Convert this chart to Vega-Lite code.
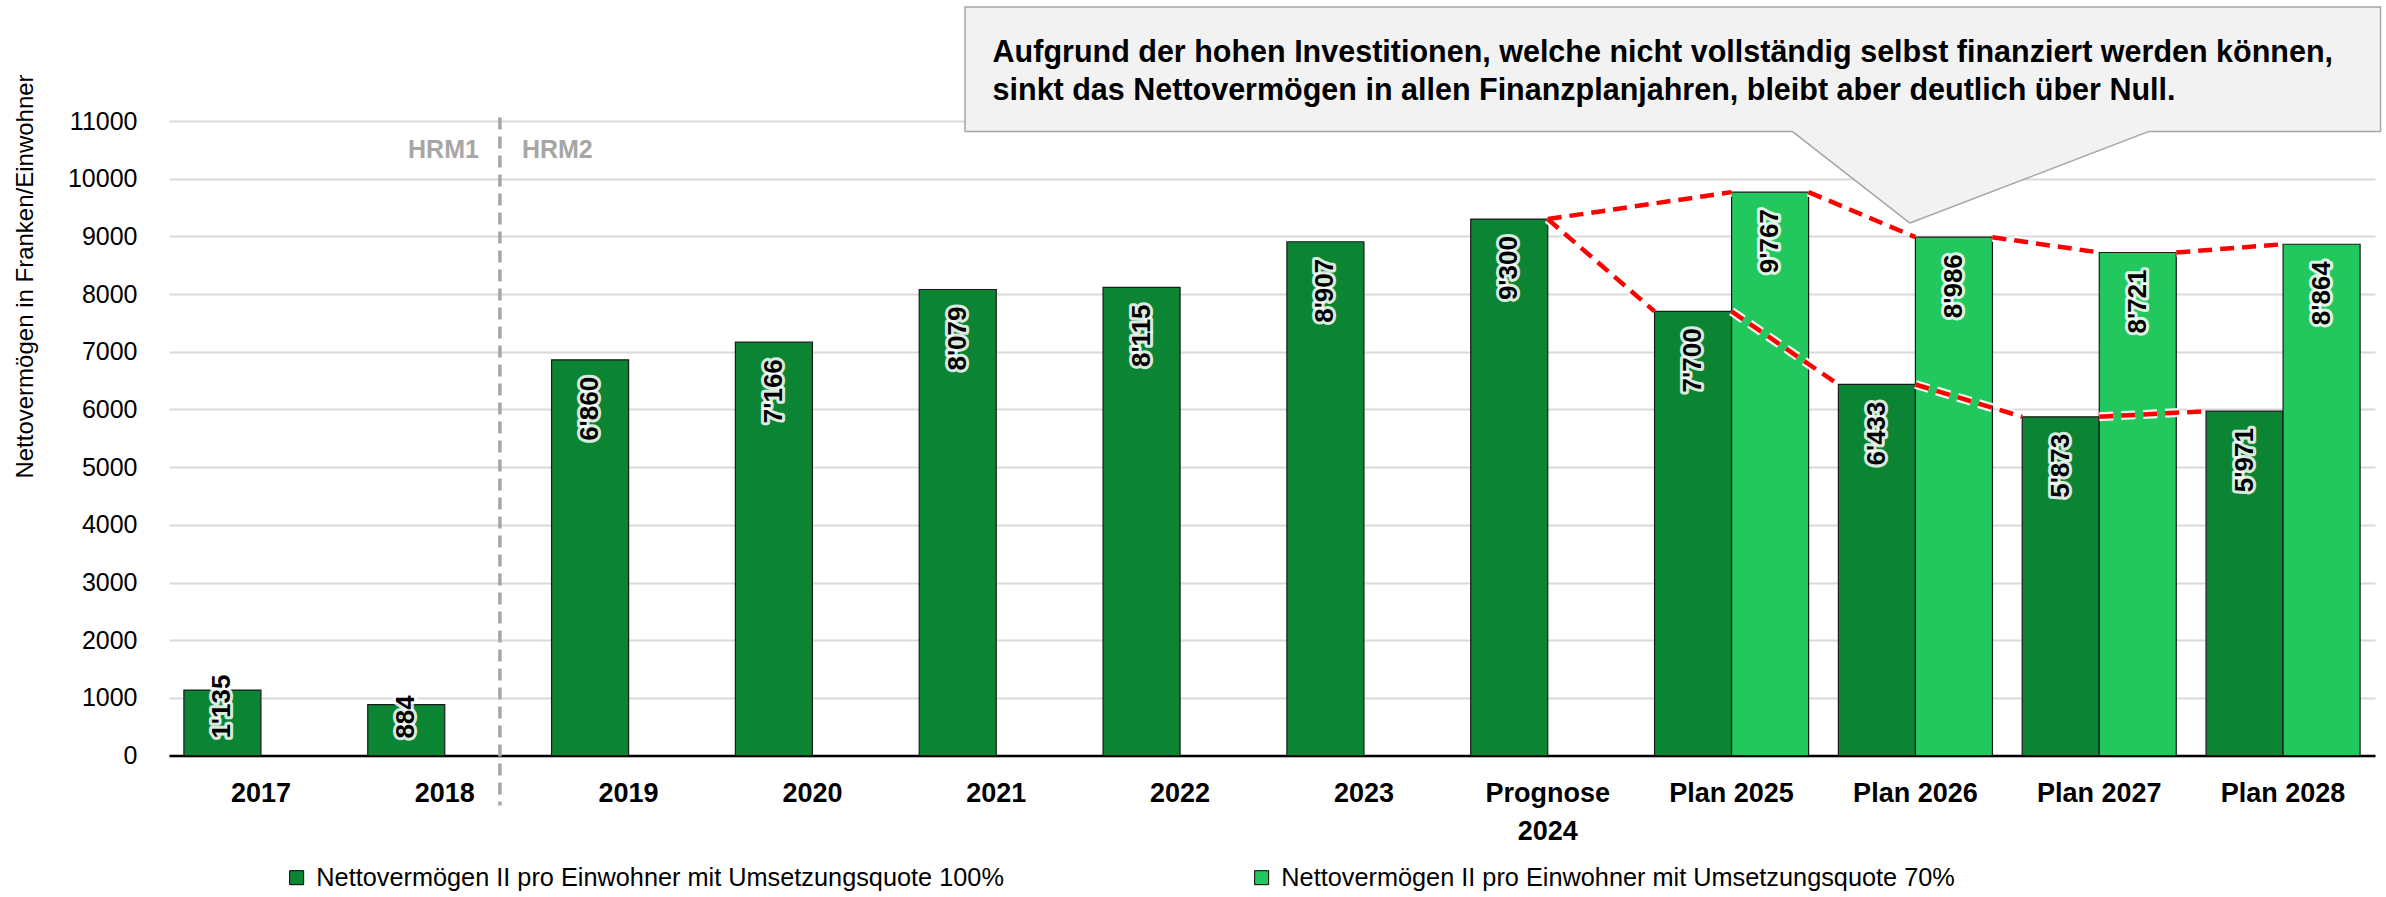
{
  "$schema": "https://vega.github.io/schema/vega-lite/v6.json",
  "autosize": {"type": "none"},
  "padding": {"left": 169, "top": 121, "right": 11, "bottom": 141.4},
  "width": 2206,
  "height": 634.6,
  "background": "white",
  "config": {
    "view": {"stroke": null},
    "locale": {"number": {"decimal": ".", "thousands": "'", "grouping": [3], "currency": ["", ""]}},
    "axisY": {
      "tickCount": 11, "format": "d", "domain": false, "ticks": false,
      "grid": true, "gridColor": "#d9d9d9", "gridWidth": 2,
      "labelFont": "Liberation Sans", "labelFontSize": 25, "labelColor": "#000000", "labelPadding": 32,
      "titleFont": "Liberation Sans", "titleFontWeight": "normal", "titleFontSize": 24, "titleColor": "#000000",
      "titleX": -156, "titleY": 155, "titleAngle": 270, "titleAlign": "center", "titleBaseline": "top"
    }
  },
  "datasets": {
    "bars": [
      {"cat": "2017", "series": "Nettovermögen II pro Einwohner mit Umsetzungsquote 100%", "value": 1135},
      {"cat": "2018", "series": "Nettovermögen II pro Einwohner mit Umsetzungsquote 100%", "value": 884},
      {"cat": "2019", "series": "Nettovermögen II pro Einwohner mit Umsetzungsquote 100%", "value": 6860},
      {"cat": "2020", "series": "Nettovermögen II pro Einwohner mit Umsetzungsquote 100%", "value": 7166},
      {"cat": "2021", "series": "Nettovermögen II pro Einwohner mit Umsetzungsquote 100%", "value": 8079},
      {"cat": "2022", "series": "Nettovermögen II pro Einwohner mit Umsetzungsquote 100%", "value": 8115},
      {"cat": "2023", "series": "Nettovermögen II pro Einwohner mit Umsetzungsquote 100%", "value": 8907},
      {"cat": "Prognose 2024", "series": "Nettovermögen II pro Einwohner mit Umsetzungsquote 100%", "value": 9300},
      {"cat": "Plan 2025", "series": "Nettovermögen II pro Einwohner mit Umsetzungsquote 100%", "value": 7700},
      {"cat": "Plan 2025", "series": "Nettovermögen II pro Einwohner mit Umsetzungsquote 70%", "value": 9767},
      {"cat": "Plan 2026", "series": "Nettovermögen II pro Einwohner mit Umsetzungsquote 100%", "value": 6433},
      {"cat": "Plan 2026", "series": "Nettovermögen II pro Einwohner mit Umsetzungsquote 70%", "value": 8986},
      {"cat": "Plan 2027", "series": "Nettovermögen II pro Einwohner mit Umsetzungsquote 100%", "value": 5873},
      {"cat": "Plan 2027", "series": "Nettovermögen II pro Einwohner mit Umsetzungsquote 70%", "value": 8721},
      {"cat": "Plan 2028", "series": "Nettovermögen II pro Einwohner mit Umsetzungsquote 100%", "value": 5971},
      {"cat": "Plan 2028", "series": "Nettovermögen II pro Einwohner mit Umsetzungsquote 70%", "value": 8864}
    ],
    "red": [
      {"x1": 7.5, "y1": 9300, "x2": 8.5, "y2": 9767},
      {"x1": 8.919, "y1": 9767, "x2": 9.5, "y2": 8986},
      {"x1": 9.919, "y1": 8986, "x2": 10.5, "y2": 8721},
      {"x1": 10.919, "y1": 8721, "x2": 11.5, "y2": 8864},
      {"x1": 7.5, "y1": 9300, "x2": 8.081, "y2": 7700},
      {"x1": 8.5, "y1": 7700, "x2": 9.081, "y2": 6433},
      {"x1": 9.5, "y1": 6433, "x2": 10.081, "y2": 5873},
      {"x1": 10.5, "y1": 5873, "x2": 11.081, "y2": 5971}
    ],
    "pointer": [
      {"u": 8.83, "top": 10880, "bot": 10800},
      {"u": 9.47, "top": 10880, "bot": 9231},
      {"u": 10.77, "top": 10880, "bot": 10800}
    ],
    "pointerEdges": [
      {"x1": 8.83, "y1": 10820, "x2": 9.47, "y2": 9231},
      {"x1": 10.77, "y1": 10820, "x2": 9.47, "y2": 9231}
    ],
    "box": [{"x1": 4.33, "x2": 12.03, "y1": 12975, "y2": 10820}],
    "note": [
      {"u": 4.48, "v": 12021, "t": "Aufgrund der hohen Investitionen, welche nicht vollständig selbst finanziert werden können,"},
      {"u": 4.48, "v": 11357, "t": "sinkt das Nettovermögen in allen Finanzplanjahren, bleibt aber deutlich über Null."}
    ],
    "hrm": [
      {"u": 1.8, "top": 11060, "bottom": -863, "mid": 10490, "left": "HRM1", "right": "HRM2"}
    ]
  },
  "layer": [
    {
      "data": {"name": "bars"},
      "mark": {"type": "bar", "stroke": "#1a1a1a", "strokeWidth": 1.2},
      "encoding": {
        "x": {
          "field": "cat", "type": "nominal",
          "scale": {"domain": ["2017","2018","2019","2020","2021","2022","2023","Prognose 2024","Plan 2025","Plan 2026","Plan 2027","Plan 2028"], "paddingInner": 0.162, "paddingOuter": 0.081},
          "axis": {
            "title": null, "labelAngle": 0, "ticks": false, "grid": false,
            "domain": true, "domainColor": "#000000", "domainWidth": 2.5,
            "labelFont": "Liberation Sans",
            "labelFontWeight": "bold", "labelFontSize": 27, "labelColor": "#000000",
            "labelPadding": 25, "labelLineHeight": 38, "labelBaseline": "top",
            "labelExpr": "datum.value === 'Prognose 2024' ? ['Prognose', '2024'] : datum.label"
          }
        },
        "xOffset": {"field": "series", "type": "nominal", "scale": {"domain": ["Nettovermögen II pro Einwohner mit Umsetzungsquote 100%", "Nettovermögen II pro Einwohner mit Umsetzungsquote 70%"], "paddingInner": 0, "paddingOuter": 0}},
        "y": {"field": "value", "type": "quantitative", "scale": {"domain": [0, 11000], "nice": false}, "title": "Nettovermögen in Franken/Einwohner"},
        "color": {
          "field": "series", "type": "nominal",
          "scale": {"domain": ["Nettovermögen II pro Einwohner mit Umsetzungsquote 100%", "Nettovermögen II pro Einwohner mit Umsetzungsquote 70%"], "range": ["#0b8434", "#22c85e"]},
          "legend": {
            "title": null, "orient": "none", "legendX": 115, "legendY": 744, "direction": "horizontal",
            "symbolType": "square", "symbolSize": 196, "symbolStrokeColor": "#000000", "symbolStrokeWidth": 1,
            "labelFont": "Liberation Sans", "labelFontSize": 25.3, "labelColor": "#000000", "labelLimit": 2000, "labelOffset": 7,
            "columnPadding": 245
          }
        }
      }
    },
    {
      "data": {"name": "hrm"},
      "mark": {"type": "rule", "stroke": "#a6a6a6", "strokeWidth": 3.5, "strokeDash": [12, 7]},
      "encoding": {
        "x": {"field": "u", "type": "quantitative", "scale": {"domain": [0, 12]}, "axis": null},
        "y": {"field": "top", "type": "quantitative", "scale": {"domain": [0, 11000], "nice": false}, "title": "Nettovermögen in Franken/Einwohner"},
        "y2": {"field": "bottom"}
      }
    },
    {
      "data": {"name": "red"},
      "mark": {"type": "rule", "stroke": "#ffffff", "strokeWidth": 9, "strokeDash": [14, 8], "opacity": 0.9},
      "encoding": {
        "x": {"field": "x1", "type": "quantitative", "scale": {"domain": [0, 12]}, "axis": null},
        "x2": {"field": "x2"},
        "y": {"field": "y1", "type": "quantitative", "scale": {"domain": [0, 11000], "nice": false}, "title": "Nettovermögen in Franken/Einwohner"},
        "y2": {"field": "y2"}
      }
    },
    {
      "data": {"name": "red"},
      "mark": {"type": "rule", "stroke": "#ff0000", "strokeWidth": 4.5, "strokeDash": [14, 8]},
      "encoding": {
        "x": {"field": "x1", "type": "quantitative", "scale": {"domain": [0, 12]}, "axis": null},
        "x2": {"field": "x2"},
        "y": {"field": "y1", "type": "quantitative", "scale": {"domain": [0, 11000], "nice": false}, "title": "Nettovermögen in Franken/Einwohner"},
        "y2": {"field": "y2"}
      }
    },
    {
      "data": {"name": "bars"},
      "transform": [{"filter": "datum.value >= 2000"}],
      "mark": {"type": "text", "angle": 270, "align": "right", "baseline": "middle", "dx": -17, "font": "Liberation Sans", "fontWeight": "bold", "fontSize": 26, "fill": "#ffffff", "stroke": "#ffffff", "strokeWidth": 6, "strokeOpacity": 0.85, "strokeJoin": "round"},
      "encoding": {
        "x": {"field": "cat", "type": "nominal", "scale": {"domain": ["2017","2018","2019","2020","2021","2022","2023","Prognose 2024","Plan 2025","Plan 2026","Plan 2027","Plan 2028"], "paddingInner": 0.162, "paddingOuter": 0.081}, "axis": null},
        "xOffset": {"field": "series", "type": "nominal", "scale": {"type": "point", "domain": ["Nettovermögen II pro Einwohner mit Umsetzungsquote 100%", "Nettovermögen II pro Einwohner mit Umsetzungsquote 70%"], "padding": 0.5}},
        "y": {"field": "value", "type": "quantitative", "scale": {"domain": [0, 11000], "nice": false}, "title": "Nettovermögen in Franken/Einwohner"},
        "text": {"field": "value", "type": "quantitative", "format": ",d"}
      }
    },
    {
      "data": {"name": "bars"},
      "transform": [{"filter": "datum.value >= 2000"}],
      "mark": {"type": "text", "angle": 270, "align": "right", "baseline": "middle", "dx": -17, "font": "Liberation Sans", "fontWeight": "bold", "fontSize": 26, "fill": "#000000"},
      "encoding": {
        "x": {"field": "cat", "type": "nominal", "scale": {"domain": ["2017","2018","2019","2020","2021","2022","2023","Prognose 2024","Plan 2025","Plan 2026","Plan 2027","Plan 2028"], "paddingInner": 0.162, "paddingOuter": 0.081}, "axis": null},
        "xOffset": {"field": "series", "type": "nominal", "scale": {"type": "point", "domain": ["Nettovermögen II pro Einwohner mit Umsetzungsquote 100%", "Nettovermögen II pro Einwohner mit Umsetzungsquote 70%"], "padding": 0.5}},
        "y": {"field": "value", "type": "quantitative", "scale": {"domain": [0, 11000], "nice": false}, "title": "Nettovermögen in Franken/Einwohner"},
        "text": {"field": "value", "type": "quantitative", "format": ",d"}
      }
    },
    {
      "data": {"name": "bars"},
      "transform": [{"filter": "datum.value < 2000"}],
      "mark": {"type": "text", "angle": 270, "align": "left", "baseline": "middle", "dx": 17, "font": "Liberation Sans", "fontWeight": "bold", "fontSize": 26, "fill": "#ffffff", "stroke": "#ffffff", "strokeWidth": 6, "strokeOpacity": 0.85, "strokeJoin": "round"},
      "encoding": {
        "x": {"field": "cat", "type": "nominal", "scale": {"domain": ["2017","2018","2019","2020","2021","2022","2023","Prognose 2024","Plan 2025","Plan 2026","Plan 2027","Plan 2028"], "paddingInner": 0.162, "paddingOuter": 0.081}, "axis": null},
        "xOffset": {"field": "series", "type": "nominal", "scale": {"type": "point", "domain": ["Nettovermögen II pro Einwohner mit Umsetzungsquote 100%", "Nettovermögen II pro Einwohner mit Umsetzungsquote 70%"], "padding": 0.5}},
        "y": {"datum": 0, "type": "quantitative", "scale": {"domain": [0, 11000], "nice": false}, "title": "Nettovermögen in Franken/Einwohner"},
        "text": {"field": "value", "type": "quantitative", "format": ",d"}
      }
    },
    {
      "data": {"name": "bars"},
      "transform": [{"filter": "datum.value < 2000"}],
      "mark": {"type": "text", "angle": 270, "align": "left", "baseline": "middle", "dx": 17, "font": "Liberation Sans", "fontWeight": "bold", "fontSize": 26, "fill": "#000000"},
      "encoding": {
        "x": {"field": "cat", "type": "nominal", "scale": {"domain": ["2017","2018","2019","2020","2021","2022","2023","Prognose 2024","Plan 2025","Plan 2026","Plan 2027","Plan 2028"], "paddingInner": 0.162, "paddingOuter": 0.081}, "axis": null},
        "xOffset": {"field": "series", "type": "nominal", "scale": {"type": "point", "domain": ["Nettovermögen II pro Einwohner mit Umsetzungsquote 100%", "Nettovermögen II pro Einwohner mit Umsetzungsquote 70%"], "padding": 0.5}},
        "y": {"datum": 0, "type": "quantitative", "scale": {"domain": [0, 11000], "nice": false}, "title": "Nettovermögen in Franken/Einwohner"},
        "text": {"field": "value", "type": "quantitative", "format": ",d"}
      }
    },
    {
      "data": {"name": "box"},
      "mark": {"type": "rect", "fill": "#f2f2f2", "stroke": "#a6a6a6", "strokeWidth": 1.5},
      "encoding": {
        "x": {"field": "x1", "type": "quantitative", "scale": {"domain": [0, 12]}, "axis": null},
        "x2": {"field": "x2"},
        "y": {"field": "y1", "type": "quantitative", "scale": {"domain": [0, 11000], "nice": false}, "title": "Nettovermögen in Franken/Einwohner"},
        "y2": {"field": "y2"}
      }
    },
    {
      "data": {"name": "pointer"},
      "mark": {"type": "area", "fill": "#f2f2f2"},
      "encoding": {
        "x": {"field": "u", "type": "quantitative", "scale": {"domain": [0, 12]}, "axis": null},
        "y": {"field": "top", "type": "quantitative", "scale": {"domain": [0, 11000], "nice": false}, "title": "Nettovermögen in Franken/Einwohner"},
        "y2": {"field": "bot"}
      }
    },
    {
      "data": {"name": "pointerEdges"},
      "mark": {"type": "rule", "stroke": "#a6a6a6", "strokeWidth": 1.5},
      "encoding": {
        "x": {"field": "x1", "type": "quantitative", "scale": {"domain": [0, 12]}, "axis": null},
        "x2": {"field": "x2"},
        "y": {"field": "y1", "type": "quantitative", "scale": {"domain": [0, 11000], "nice": false}, "title": "Nettovermögen in Franken/Einwohner"},
        "y2": {"field": "y2"}
      }
    },
    {
      "data": {"name": "note"},
      "mark": {"type": "text", "align": "left", "baseline": "alphabetic", "font": "Liberation Sans", "fontWeight": "bold", "fontSize": 30.5, "fill": "#000000"},
      "encoding": {
        "x": {"field": "u", "type": "quantitative", "scale": {"domain": [0, 12]}, "axis": null},
        "y": {"field": "v", "type": "quantitative", "scale": {"domain": [0, 11000], "nice": false}, "title": "Nettovermögen in Franken/Einwohner"},
        "text": {"field": "t", "type": "nominal"}
      }
    },
    {
      "data": {"name": "hrm"},
      "mark": {"type": "text", "align": "right", "baseline": "middle", "dx": -21, "font": "Liberation Sans", "fontWeight": "bold", "fontSize": 25, "fill": "#a6a6a6"},
      "encoding": {
        "x": {"field": "u", "type": "quantitative", "scale": {"domain": [0, 12]}, "axis": null},
        "y": {"field": "mid", "type": "quantitative", "scale": {"domain": [0, 11000], "nice": false}, "title": "Nettovermögen in Franken/Einwohner"},
        "text": {"field": "left", "type": "nominal"}
      }
    },
    {
      "data": {"name": "hrm"},
      "mark": {"type": "text", "align": "left", "baseline": "middle", "dx": 22, "font": "Liberation Sans", "fontWeight": "bold", "fontSize": 25, "fill": "#a6a6a6"},
      "encoding": {
        "x": {"field": "u", "type": "quantitative", "scale": {"domain": [0, 12]}, "axis": null},
        "y": {"field": "mid", "type": "quantitative", "scale": {"domain": [0, 11000], "nice": false}, "title": "Nettovermögen in Franken/Einwohner"},
        "text": {"field": "right", "type": "nominal"}
      }
    }
  ],
  "resolve": {"scale": {"x": "independent", "xOffset": "independent"}}
}
